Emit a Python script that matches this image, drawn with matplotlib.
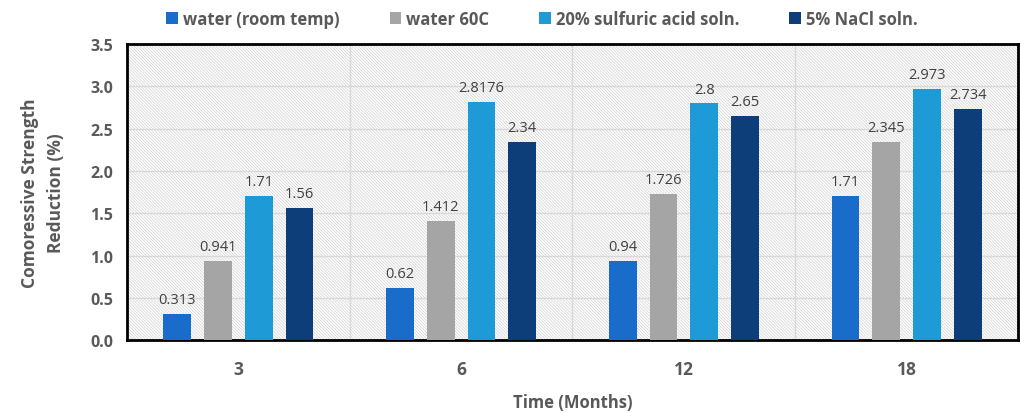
import matplotlib.pyplot as plt
import numpy as np
from matplotlib.patches import Rectangle

months = ['3', '6', '12', '18']
water_room = [0.313, 0.62, 0.94, 1.71]
water_60 = [0.941, 1.412, 1.726, 2.345]
sulfuric = [1.71, 2.8176, 2.8, 2.973]
nacl = [1.56, 2.34, 2.65, 2.734]
labels = ['water (room temp)', 'water 60C', '20% sulfuric acid soln.', '5% NaCl soln.']
label_txt = [['0.313', '0.62', '0.94', '1.71'],
             ['0.941', '1.412', '1.726', '2.345'],
             ['1.71', '2.8176', '2.8', '2.973'],
             ['1.56', '2.34', '2.65', '2.734']]
colors = ['#1A6CCB', '#A5A5A5', '#1E9AD6', '#0D3E7A']

plt.rcParams['font.family'] = 'Open Sans'
plt.rcParams['hatch.linewidth'] = 0.5
plt.rcParams['hatch.color'] = '#D0D0D0'

fig = plt.figure(figsize=(10.21, 4.14), dpi=100)
ax = fig.add_axes([0.1244, 0.176, 0.8726, 0.715])

# diagonal hatched background
ax.add_patch(Rectangle((0, 0), 1, 1, transform=ax.transAxes, facecolor='white',
                       edgecolor='#D0D0D0', hatch='\\' * 11, linewidth=0, zorder=0))

x = np.arange(len(months))
w = 0.125
step = 0.183
series = [water_room, water_60, sulfuric, nacl]
for i, (vals, c, lab) in enumerate(zip(series, colors, labels)):
    pos = x + (i - 1.5) * step
    ax.bar(pos, vals, w, color=c, label=lab, zorder=3)
    for p, v, t in zip(pos, vals, label_txt[i]):
        ax.text(p, v + 0.08, t, ha='center', va='bottom', fontsize=10.5,
                color='#404040', zorder=4)

ax.set_xlim(-0.5, 3.5)
ax.set_ylim(0, 3.5)
ax.set_yticks(np.arange(0, 3.51, 0.5))
ax.set_yticklabels(['%.1f' % v for v in np.arange(0, 3.51, 0.5)])
ax.set_xticks(x)
ax.set_xticklabels(months)
for b in [0.5, 1.5, 2.5]:
    ax.axvline(b, color='#D9D9D9', lw=1, zorder=1)
for yv in np.arange(0.5, 3.5, 0.5):
    ax.axhline(yv, color='#D9D9D9', lw=1, zorder=1)

for s in ax.spines.values():
    s.set_linewidth(2)
    s.set_color('black')
ax.tick_params(length=0, labelsize=11.5, labelcolor='#595959', pad=10)
for t in ax.get_xticklabels() + ax.get_yticklabels():
    t.set_fontweight('bold')
ax.tick_params(axis='x', pad=14, labelsize=12.5)

ax.set_ylabel('Comoressive Strength\nReduction (%)', fontsize=12.5, fontweight='bold',
              color='#595959', labelpad=18, linespacing=1.55)
ax.set_xlabel('Time (Months)', fontsize=12, fontweight='bold', color='#595959', labelpad=11)

leg = fig.legend(loc='upper center', bbox_to_anchor=(0.531, 1.01), ncol=4, frameon=False,
                 handlelength=0.7, handleheight=0.7, columnspacing=3.0,
                 handletextpad=0.3, prop={'weight': 'bold', 'size': 12})
for t in leg.get_texts():
    t.set_color('#595959')

fig.savefig('out.png', dpi=100)
